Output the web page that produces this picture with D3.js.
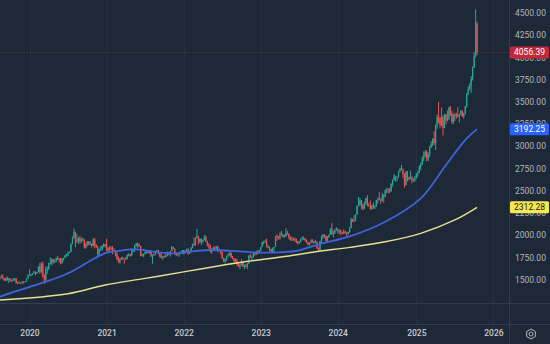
<!DOCTYPE html>
<html>
<head>
<meta charset="utf-8">
<script src="https://cdn.jsdelivr.net/npm/d3@7"></script>
<style>
  html, body { margin: 0; padding: 0; background: #1e2937; }
  svg { display: block; }
  text { font-family: Roboto, "Noto Sans", sans-serif; }
</style>
</head>
<body>
<svg id="chart" width="550" height="344"></svg>
<script>
// Weekly gold candles, each row is [open, high, low, close]; rows run week by week from the year's first Monday
const yearStarts = ["2019-08-12", "2020-01-06", "2021-01-04", "2022-01-03", "2023-01-02", "2024-01-01", "2025-01-06"];

const ohlc2019 = [
  [1497,1535,1480,1513],[1513,1528,1492,1527],[1527,1555,1520,1520],[1520,1557,1502,1507],
  [1507,1516,1484,1488],[1488,1525,1485,1517],[1517,1535,1485,1497],[1497,1519,1459,1505],
  [1505,1517,1474,1489],[1489,1500,1475,1490],[1490,1518,1481,1505],[1505,1516,1486,1509],
  [1509,1515,1456,1459],[1459,1474,1446,1468],[1468,1479,1456,1462],[1462,1466,1452,1463],
  [1463,1484,1458,1460],[1460,1480,1456,1476],[1476,1482,1472,1479],[1479,1514,1477,1510],
  [1510,1553,1508,1552]
];
const ohlc2020 = [
  [1552,1611,1545,1557],[1557,1563,1536,1557],[1557,1574,1548,1571],[1571,1592,1565,1589],
  [1589,1591,1548,1570],[1570,1584,1563,1584],[1584,1649,1581,1643],[1643,1689,1563,1585],
  [1585,1691,1575,1673],[1673,1703,1520,1530],[1530,1557,1451,1498],[1498,1645,1484,1617],
  [1617,1646,1567,1620],[1620,1690,1606,1683],[1683,1747,1672,1683],[1683,1739,1660,1729],
  [1729,1730,1676,1700],[1700,1723,1690,1702],[1702,1746,1695,1743],[1743,1765,1718,1735],
  [1735,1740,1693,1730],[1730,1745,1670,1684],[1684,1744,1680,1730],[1730,1745,1710,1743],
  [1743,1779,1741,1771],[1771,1789,1757,1775],[1775,1818,1762,1798],[1798,1814,1796,1810],
  [1810,1905,1807,1902],[1902,1984,1896,1975],[1975,2075,1961,2035],[2035,2040,1863,1944],
  [1944,2015,1911,1940],[1940,1976,1903,1964],[1964,1992,1902,1933],[1933,1973,1911,1940],
  [1940,1973,1933,1950],[1950,1955,1848,1861],[1861,1917,1848,1900],[1900,1933,1873,1930],
  [1930,1933,1882,1899],[1899,1933,1890,1902],[1902,1910,1860,1879],[1879,1965,1875,1951],
  [1951,1966,1850,1889],[1889,1898,1854,1871],[1871,1875,1764,1788],[1788,1848,1774,1839],
  [1839,1875,1822,1839],[1839,1890,1825,1881],[1881,1906,1860,1877],[1877,1900,1862,1898]
];
const ohlc2021 = [
  [1898,1959,1816,1850],[1850,1863,1802,1828],[1828,1875,1826,1855],[1855,1875,1830,1847],
  [1847,1876,1785,1813],[1813,1855,1811,1824],[1824,1832,1761,1784],[1784,1816,1717,1734],
  [1734,1760,1687,1700],[1700,1740,1676,1727],[1727,1755,1719,1745],[1745,1755,1721,1733],
  [1733,1734,1677,1729],[1729,1758,1721,1744],[1744,1784,1725,1777],[1777,1798,1760,1777],
  [1777,1790,1756,1769],[1769,1843,1769,1831],[1831,1846,1808,1844],[1844,1890,1808,1881],
  [1881,1913,1869,1905],[1905,1916,1855,1892],[1892,1903,1866,1877],[1877,1878,1761,1764],
  [1764,1795,1761,1781],[1781,1792,1750,1787],[1787,1818,1782,1808],[1808,1834,1791,1812],
  [1812,1832,1794,1802],[1802,1832,1790,1814],[1814,1832,1753,1763],[1763,1782,1677,1780],
  [1780,1795,1770,1781],[1781,1823,1777,1817],[1817,1834,1806,1827],[1827,1834,1782,1788],
  [1788,1809,1745,1754],[1754,1787,1737,1750],[1750,1764,1721,1761],[1761,1771,1746,1757],
  [1757,1800,1750,1768],[1768,1814,1760,1793],[1793,1810,1772,1783],[1783,1819,1758,1818],
  [1818,1877,1815,1865],[1865,1870,1842,1846],[1846,1849,1778,1788],[1788,1808,1762,1783],
  [1783,1793,1770,1783],[1783,1814,1753,1798],[1798,1812,1785,1811],[1811,1831,1790,1829]
];
const ohlc2022 = [
  [1829,1831,1782,1797],[1797,1831,1791,1817],[1817,1848,1805,1836],[1836,1853,1780,1791],
  [1791,1816,1788,1808],[1808,1865,1807,1859],[1859,1902,1850,1898],[1898,1974,1878,1889],
  [1889,1974,1878,1970],[1970,2070,1962,1988],[1988,1988,1895,1921],[1921,1966,1910,1958],
  [1958,1960,1890,1925],[1925,1950,1915,1945],[1945,1998,1940,1974],[1974,1998,1922,1931],
  [1931,1937,1872,1896],[1896,1910,1850,1883],[1883,1886,1807,1811],[1811,1849,1786,1846],
  [1846,1870,1837,1853],[1853,1875,1828,1851],[1851,1876,1836,1871],[1871,1880,1805,1840],
  [1840,1848,1816,1827],[1827,1831,1784,1811],[1811,1813,1732,1742],[1742,1745,1697,1703],
  [1703,1739,1681,1727],[1727,1768,1711,1766],[1766,1794,1754,1775],[1775,1808,1768,1802],
  [1802,1802,1745,1747],[1747,1765,1727,1737],[1737,1740,1688,1712],[1712,1735,1697,1716],
  [1716,1735,1654,1675],[1675,1688,1640,1644],[1644,1675,1615,1660],[1660,1730,1660,1695],
  [1695,1700,1640,1644],[1644,1668,1618,1657],[1657,1675,1638,1644],[1644,1683,1616,1681],
  [1681,1771,1675,1771],[1771,1787,1747,1751],[1751,1760,1718,1755],[1755,1804,1745,1797],
  [1797,1808,1767,1797],[1797,1824,1776,1793],[1793,1833,1785,1798],[1798,1833,1796,1824]
];
const ohlc2023 = [
  [1824,1865,1824,1865],[1865,1921,1867,1920],[1920,1937,1896,1926],[1926,1949,1913,1928],
  [1928,1960,1861,1865],[1865,1890,1852,1865],[1865,1870,1819,1842],[1842,1845,1808,1811],
  [1811,1858,1804,1856],[1856,1868,1809,1868],[1868,1989,1868,1989],[1989,2009,1934,1978],
  [1978,1987,1949,1969],[1969,2032,1950,2007],[2007,2048,1996,2004],[2004,2015,1969,1983],
  [1983,2004,1974,1990],[1990,2079,1975,2017],[2017,2048,2002,2011],[2011,2022,1952,1978],
  [1978,1985,1938,1946],[1946,1983,1932,1948],[1948,1973,1938,1961],[1961,1971,1925,1958],
  [1958,1959,1911,1921],[1921,1936,1893,1919],[1919,1936,1903,1925],[1925,1963,1918,1955],
  [1955,1987,1953,1962],[1962,1982,1942,1959],[1959,1965,1928,1942],[1942,1948,1907,1914],
  [1914,1917,1885,1889],[1889,1923,1884,1915],[1915,1953,1913,1940],[1940,1953,1915,1919],
  [1919,1933,1901,1924],[1924,1947,1913,1925],[1925,1926,1846,1848],[1848,1859,1810,1833],
  [1833,1933,1833,1932],[1932,1997,1908,1981],[1981,2009,1953,2006],[2006,2009,1970,1993],
  [1993,1993,1932,1940],[1940,1988,1931,1981],[1981,2008,1966,2002],[2002,2076,2001,2072],
  [2072,2135,2010,2005],[2005,2047,1973,2019],[2019,2071,2016,2053],[2053,2088,2048,2063]
];
const ohlc2024 = [
  [2063,2078,2016,2049],[2049,2062,2013,2049],[2049,2062,2001,2029],[2029,2036,2009,2018],
  [2018,2065,2016,2039],[2039,2050,2014,2024],[2024,2033,1984,2013],[2013,2041,2003,2035],
  [2035,2088,2025,2083],[2083,2195,2077,2179],[2179,2185,2146,2155],[2155,2223,2146,2165],
  [2165,2236,2161,2233],[2233,2330,2228,2330],[2330,2431,2323,2344],[2344,2418,2325,2392],
  [2392,2395,2292,2337],[2337,2355,2278,2301],[2301,2378,2291,2360],[2360,2422,2339,2415],
  [2415,2450,2325,2334],[2334,2364,2322,2327],[2327,2388,2287,2293],[2293,2342,2286,2332],
  [2332,2368,2295,2321],[2321,2339,2293,2326],[2326,2393,2318,2391],[2391,2424,2353,2411],
  [2411,2483,2392,2400],[2400,2413,2353,2387],[2387,2477,2381,2443],[2443,2462,2364,2431],
  [2431,2509,2429,2507],[2507,2531,2470,2512],[2512,2528,2471,2503],[2503,2529,2472,2497],
  [2497,2586,2485,2577],[2577,2625,2547,2622],[2622,2685,2614,2658],[2658,2670,2603,2653],
  [2653,2659,2603,2656],[2656,2722,2647,2721],[2721,2758,2704,2747],[2747,2790,2730,2736],
  [2736,2750,2644,2685],[2685,2695,2536,2563],[2563,2722,2558,2715],[2715,2722,2605,2650],
  [2650,2658,2613,2633],[2633,2726,2627,2648],[2648,2664,2583,2622],[2622,2638,2600,2621],
  [2621,2665,2598,2640]
];
const ohlc2025 = [
  [2640,2697,2633,2690],[2690,2725,2656,2703],[2703,2785,2700,2770],[2770,2817,2730,2800],
  [2800,2886,2790,2861],[2861,2943,2832,2883],[2883,2955,2880,2936],[2936,2956,2833,2858],
  [2858,2930,2832,2911],[2911,3005,2880,2984],[2984,3057,2982,3022],[3022,3087,3000,3085],
  [3085,3168,3015,3037],[3037,3245,2957,3237],[3237,3357,3194,3327],[3327,3500,3260,3319],
  [3319,3330,3202,3240],[3240,3435,3228,3325],[3325,3345,3121,3205],[3205,3366,3204,3357],
  [3357,3365,3245,3289],[3289,3403,3280,3310],[3310,3446,3294,3432],[3432,3452,3340,3368],
  [3368,3398,3255,3274],[3274,3366,3248,3337],[3337,3375,3283,3355],[3355,3377,3310,3350],
  [3350,3439,3324,3337],[3337,3363,3268,3363],[3363,3409,3350,3397],[3397,3403,3330,3336],
  [3336,3379,3311,3371],[3371,3453,3356,3448],[3448,3600,3436,3587],[3587,3674,3578,3643],
  [3643,3707,3630,3685],[3685,3790,3600,3760],[3760,3900,3740,3886],[3886,4060,3880,4018],
  [4018,4540,4000,4380],[4380,4402,4027,4056.39]
];
const ohlcByYear = [ohlc2019, ohlc2020, ohlc2021, ohlc2022, ohlc2023, ohlc2024, ohlc2025];

// 50-week simple moving average (blue)
const ma50Dates = ["2019-08-12","2019-11-04","2020-03-09","2020-07-06","2020-11-09","2021-01-04","2021-03-08",
  "2021-05-17","2021-09-06","2021-12-06","2022-01-31","2022-05-02","2022-09-26","2022-11-07","2023-02-13",
  "2023-06-19","2023-10-02","2024-02-26","2024-08-12","2025-01-27","2025-05-26","2025-08-25","2025-10-20"];
const ma50Values = [1300,1368,1464,1570,1739,1802,1824,1843,1806,1795,1813,1832,1817,1809,1802,
  1821,1896,1985,2150,2414,2789,3070,3192.25];

// 200-week simple moving average (yellow)
const ma200Dates = ["2019-08-12","2020-07-06","2020-12-28","2021-07-05","2022-01-10","2022-08-08","2022-10-17",
  "2023-05-15","2023-09-18","2024-02-26","2024-08-12","2025-01-27","2025-07-07","2025-10-20"];
const ma200Values = [1268,1340,1438,1512,1588,1674,1700,1764,1813,1862,1925,2020,2170,2312.28];

// Axis ticks
const yearTickDates = ["2020-01-06","2021-01-04","2022-01-03","2023-01-02","2024-01-01","2025-01-06","2026-01-05"];
const yearTickLabels = ["2020","2021","2022","2023","2024","2025","2026"];
const priceTicks = [1500,1750,2000,2250,2500,2750,3000,3250,3500,3750,4000,4250,4500];

// Last values shown as tags on the price scale
const lastPrice = 4056.39;
const lastMa50 = 3192.25;
const lastMa200 = 2312.28;

const parse = d3.utcParse("%Y-%m-%d");
const W = 550, H = 344, paneRight = 509, paneBottom = 324;
const colors = {
  bg: "#1e2937", grid: "#263242", border: "#323e4e", text: "#b2b5be",
  up: "#26a69a", down: "#ef5350", ma50: "#3d63dd", ma200: "#e8df8f",
  tagPrice: "#c2283a", tagMa50: "#2962ff", tagMa200: "#f7e84d"
};

const candles = [];
ohlcByYear.forEach((rows, yi) => {
  const start = parse(yearStarts[yi]);
  rows.forEach((r, i) => {
    candles.push({ date: d3.utcMonday.offset(start, i), o: r[0], h: r[1], l: r[2], c: r[3] });
  });
});

const x = d3.scaleUtc()
  .domain([parse("2020-01-06"), parse("2025-10-20")])
  .range([29.5, 477.1]);
const y = d3.scaleLinear().domain([1500, 4500]).range([279.5, 13]);

const svg = d3.select("#chart");
svg.append("rect").attr("width", W).attr("height", H).attr("fill", colors.bg);

svg.append("clipPath").attr("id", "pane")
  .append("rect").attr("x", 0).attr("y", 0).attr("width", paneRight).attr("height", paneBottom);

// Vertical grid lines at year starts
svg.append("g").selectAll("line").data(yearTickDates).join("line")
  .attr("x1", d => Math.round(x(parse(d))) + 0.5).attr("x2", d => Math.round(x(parse(d))) + 0.5)
  .attr("y1", 0).attr("y2", paneBottom)
  .attr("stroke", colors.grid).attr("stroke-width", 1);

// Lower pane edge
svg.append("line").attr("x1", 0).attr("x2", W).attr("y1", 303.5).attr("y2", 303.5)
  .attr("stroke", colors.border).attr("stroke-width", 1);

const pane = svg.append("g").attr("clip-path", "url(#pane)");

// Last price line
pane.append("line")
  .attr("x1", 0).attr("x2", paneRight)
  .attr("y1", Math.round(y(lastPrice)) + 0.5).attr("y2", Math.round(y(lastPrice)) + 0.5)
  .attr("stroke", colors.down).attr("stroke-opacity", 0.25).attr("stroke-dasharray", "1,1");

// Candles
const cg = pane.append("g");
cg.selectAll("line").data(candles).join("line")
  .attr("x1", d => x(d.date)).attr("x2", d => x(d.date))
  .attr("y1", d => y(d.h)).attr("y2", d => y(d.l))
  .attr("stroke", d => d.c >= d.o ? colors.up : colors.down)
  .attr("stroke-width", 1);
cg.selectAll("rect").data(candles).join("rect")
  .attr("x", d => x(d.date) - 0.6).attr("width", 1.2)
  .attr("y", d => y(Math.max(d.o, d.c)))
  .attr("height", d => Math.max(1, Math.abs(y(d.o) - y(d.c))))
  .attr("fill", d => d.c >= d.o ? colors.up : colors.down);

// Moving averages
const maLine = d3.line().x(d => x(d[0])).y(d => y(d[1])).curve(d3.curveCatmullRom.alpha(0.5));
pane.append("path")
  .datum(ma200Dates.map((d, i) => [parse(d), ma200Values[i]]))
  .attr("d", maLine).attr("fill", "none").attr("stroke", colors.ma200).attr("stroke-width", 1.4);
pane.append("path")
  .datum(ma50Dates.map((d, i) => [parse(d), ma50Values[i]]))
  .attr("d", maLine).attr("fill", "none").attr("stroke", colors.ma50).attr("stroke-width", 1.8);

// Pane borders
svg.append("line").attr("x1", paneRight + 0.5).attr("x2", paneRight + 0.5).attr("y1", 0).attr("y2", H)
  .attr("stroke", colors.border);
svg.append("line").attr("x1", 0).attr("x2", W).attr("y1", paneBottom + 0.5).attr("y2", paneBottom + 0.5)
  .attr("stroke", colors.border);

// Price scale (labels under the value tags stay partly visible, as on the price scale itself)
const yAxis = svg.append("g").attr("transform", `translate(${paneRight},0)`)
  .call(d3.axisRight(y).tickValues(priceTicks).tickFormat(d3.format(".2f")).tickSize(0).tickPadding(6));
yAxis.select(".domain").remove();
yAxis.selectAll("text").attr("fill", colors.text).attr("font-size", 8.5);

// Value tags
function tag(value, fill, textColor) {
  const g = svg.append("g").attr("transform", `translate(${paneRight + 1},${y(value)})`);
  g.append("rect").attr("x", 0).attr("y", -6).attr("width", 39).attr("height", 12).attr("rx", 1.5)
    .attr("fill", fill);
  g.append("text").attr("x", 19.5).attr("y", 0).attr("dy", "0.35em").attr("text-anchor", "middle")
    .attr("font-size", 8.5).attr("fill", textColor).text(d3.format(".2f")(value));
}
tag(lastMa200, colors.tagMa200, "#131722");
tag(lastMa50, colors.tagMa50, "#ffffff");
tag(lastPrice, colors.tagPrice, "#ffffff");

// Time scale
const xAxis = svg.append("g").attr("transform", `translate(0,${paneBottom})`)
  .call(d3.axisBottom(x).tickValues(yearTickDates.map(parse))
    .tickFormat((d, i) => yearTickLabels[i]).tickSize(0).tickPadding(6));
xAxis.select(".domain").remove();
xAxis.selectAll("text").attr("fill", "#c9ccd4").attr("font-size", 8.5).attr("font-weight", 500);

// Settings button on the corner
const gear = svg.append("g").attr("transform", "translate(531,334)")
  .attr("fill", "none").attr("stroke", colors.text).attr("stroke-width", 1);
gear.append("path").attr("d", d3.range(6).map((k, i) => {
  const a = Math.PI / 6 + k * Math.PI / 3;
  return (i ? "L" : "M") + (5 * Math.cos(a)).toFixed(2) + "," + (5 * Math.sin(a)).toFixed(2);
}).join("") + "Z");
gear.append("circle").attr("r", 2);
</script>
</body>
</html>
